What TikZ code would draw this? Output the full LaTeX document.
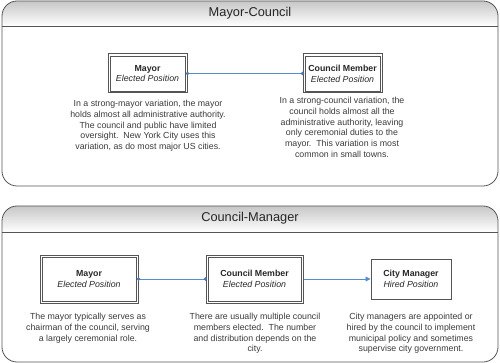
\documentclass[tikz,border=0pt]{standalone}
\usepackage{fontspec}
\setmainfont{Liberation Sans}
\usetikzlibrary{arrows.meta}
\definecolor{edgegray}{HTML}{555555}
\definecolor{txt}{HTML}{3A3A3A}
\definecolor{conn}{HTML}{5A8AD0}
\tikzset{
  panel/.style={draw=edgegray, line width=0.8pt, rounded corners=15},
  dbox/.style={draw=edgegray, line width=1pt, inner sep=0pt, align=center, font=\fontsize{8.8}{10.9}\selectfont, text=black!85},
  inner/.style={draw=edgegray, line width=0.7pt},
  sbox/.style={draw=edgegray, line width=1pt, inner sep=0pt, align=center, font=\fontsize{8.8}{10.9}\selectfont, text=black!85},
  desc/.style={anchor=north, align=center, inner sep=0pt, font=\fontsize{8.8}{10.8}\selectfont, text=txt},
  ptitle/.style={font=\fontsize{12.8}{14}\selectfont, text=black!85},
  link/.style={draw=conn, line width=0.8pt},
  dot/.style={fill=conn!85!black},
  arr/.style={link, -{Triangle[length=5pt,width=5pt]}}
}
\begin{document}
\begin{tikzpicture}[x=1pt,y=-1pt]
\useasboundingbox (0,0) rectangle (500,363);
% top panel
\begin{scope}
\clip[rounded corners=15] (2,1) rectangle (498,186);
\shade[top color=black!22, bottom color=white] (2,1) rectangle (498,26);
\end{scope}
\draw[draw=edgegray, line width=0.8pt] (2,26) -- (498,26);
\draw[panel] (2,1) rectangle (498,186);
\node[ptitle] (t1) at (250,13) {Mayor-Council};
\node[dbox, minimum width=79pt, minimum height=39pt] (m1) at (147.5,73.5) {\textbf{Mayor}\\\textit{Elected Position}};
\draw[inner] ([shift={(2.5,2.5)}]m1.north west) rectangle ([shift={(-2.5,-2.5)}]m1.south east);
\node[dbox, minimum width=79pt, minimum height=39pt] (c1) at (342.5,73.5) {\textbf{Council Member}\\\textit{Elected Position}};
\draw[inner] ([shift={(2.5,2.5)}]c1.north west) rectangle ([shift={(-2.5,-2.5)}]c1.south east);
\draw[link] (m1.east) -- (c1.west);
\fill[dot] (m1.east) circle (1.9);
\fill[dot] (c1.west) circle (1.9);
\node[desc] (d1) at (148,100) {In a strong-mayor variation, the mayor\\holds almost all administrative authority.\\The council and public have limited\\oversight.\ \ New York City uses this\\variation, as do most major US cities.};
\node[desc] (d2) at (342,97) {In a strong-council variation, the\\council holds almost all the\\administrative authority, leaving\\only ceremonial duties to the\\mayor.\ \ This variation is most\\common in small towns.};
% bottom panel
\begin{scope}
\clip[rounded corners=15] (2,206) rectangle (498,362);
\shade[top color=black!22, bottom color=white] (2,206) rectangle (498,232);
\end{scope}
\draw[draw=edgegray, line width=0.8pt] (2,232) -- (498,232);
\draw[panel] (2,206) rectangle (498,362);
\node[ptitle] (t2) at (250,218) {Council-Manager};
\node[dbox, minimum width=98pt, minimum height=48pt] (m2) at (89,279) {\textbf{Mayor}\\\textit{Elected Position}};
\draw[inner] ([shift={(2.5,2.5)}]m2.north west) rectangle ([shift={(-2.5,-2.5)}]m2.south east);
\node[dbox, minimum width=97pt, minimum height=48pt] (c2) at (254.5,279) {\textbf{Council Member}\\\textit{Elected Position}};
\draw[inner] ([shift={(2.5,2.5)}]c2.north west) rectangle ([shift={(-2.5,-2.5)}]c2.south east);
\node[sbox, minimum width=80pt, minimum height=40pt] (cm) at (411,279) {\textbf{City Manager}\\\textit{Hired Position}};
\draw[link] (m2.east) -- (c2.west);
\fill[dot] (m2.east) circle (1.9);
\fill[dot] (c2.west) circle (1.9);
\draw[arr] (c2.east) -- (cm.west);
\node[desc] (d3) at (88,313) {The mayor typically serves as\\chairman of the council, serving\\a largely ceremonial role.};
\node[desc] (d4) at (255,313) {There are usually multiple council\\members elected.\ \ The number\\and distribution depends on the\\city.};
\node[desc] (d5) at (411,313) {City managers are appointed or\\hired by the council to implement\\municipal policy and sometimes\\supervise city government.};
\end{tikzpicture}
\end{document}
